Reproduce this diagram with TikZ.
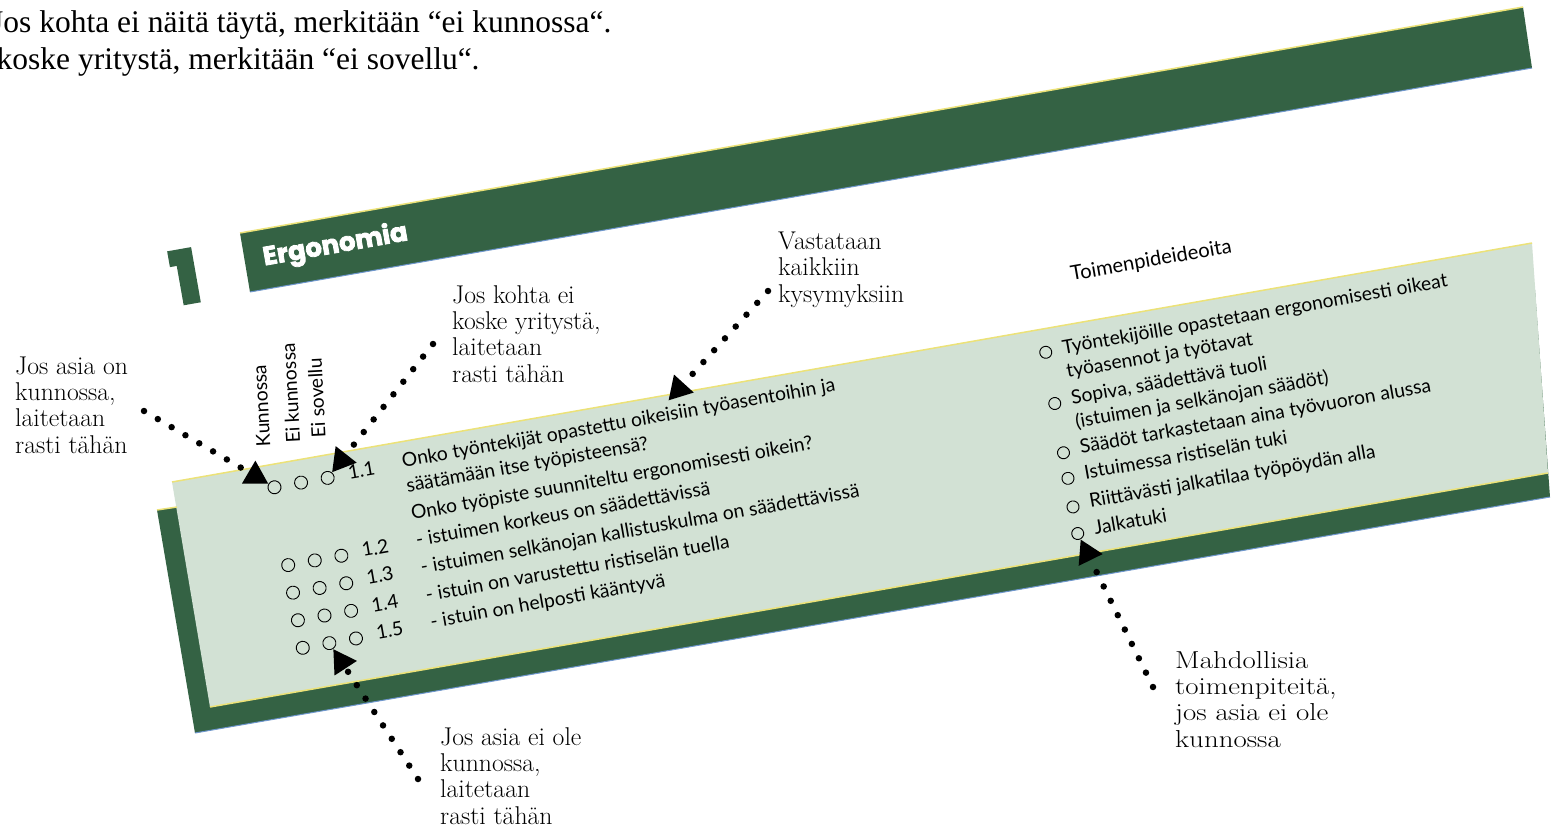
\documentclass[tikz,border=0pt]{standalone}
\usepackage{fontspec}
\usepackage{graphicx}
\setsansfont{Lato}
\newfontfamily\timesfont{Liberation Serif}
\newfontfamily\titlefont{Poppins}[BoldFeatures={FakeBold=3}]
\newfontfamily\numberfont{Poppins}[BoldFeatures={FakeBold=7}]
\usepackage{tikz}
\usetikzlibrary{arrows.meta}
\usetikzlibrary{positioning}
\definecolor{formgreen}{RGB}{52,98,68}
\definecolor{formpale}{RGB}{210,225,212}
\definecolor{rimyellow}{RGB}{236,226,120}
\definecolor{rimblue}{RGB}{110,150,205}
\newcommand{\wideline}[1]{\scalebox{1.18}[1]{#1}}

\begin{document}
\begin{tikzpicture}[x=1pt,y=-1pt,
        ringbox/.style={draw,circle,inner sep=0pt,minimum size=13pt,line width=0.9pt},
        formline/.style={font=\sffamily\fontsize{19.3}{21}\selectfont,anchor=base west,inner sep=0pt},
        annot/.style={font=\fontsize{25.7}{26.3}\selectfont,align=left,anchor=base west,inner sep=0pt},
        dotarrow/.style={line width=6.5pt,line cap=round,dash pattern=on 0pt off 16pt,-{Triangle[length=23pt,width=25pt]}}]
    \useasboundingbox (0,0) rectangle (1556,829);

    \fill[formgreen] (240,233) -- (1523,7) -- (1532,68) -- (250,292) -- cycle;
    \fill[formgreen] (157,510) -- (1535,290) -- (1550,497) -- (195,733) -- cycle;
    \fill[formpale] (172,482) -- (1532,243) -- (1548,473) -- (210,707) -- cycle;
    \draw[rimyellow,line width=1.5pt] (240,233) -- (1523,7) (172,482) -- (1532,243)
        (210,707) -- (1548,473) (157,510) -- (177,507);
    \draw[rimblue,line width=1pt] (250,292) -- (1532,68) (195,733) -- (1550,497);

    \node[font=\timesfont\fontsize{31.5}{37}\selectfont,anchor=base west,inner sep=0pt] (top1) at (-9,33) {Jos kohta ei näitä täytä, merkitään “ei kunnossa“.};
    \node[font=\timesfont\fontsize{31.5}{37}\selectfont,anchor=base west,inner sep=0pt] (top2) at (-3.5,70) {koske yritystä, merkitään “ei sovellu“.};

    \begin{scope}[shift={(172,482)},rotate=10,transform shape]
        \node[font=\numberfont\bfseries\fontsize{70}{70}\selectfont,text=formgreen,inner sep=0pt] (one) at (49,-200) {1};
        \node[font=\titlefont\bfseries\fontsize{26}{26}\selectfont,text=white,inner sep=0pt] (title) at (202,-204) {Ergonomia};
        \node[formline,rotate=83] (h1) at (103,-18) {Kunnossa};
        \node[formline,rotate=83] (h2) at (133,-16) {Ei kunnossa};
        \node[formline,rotate=83] (h3) at (159,-17) {Ei sovellu};
        \node[formline,font=\sffamily\fontsize{20.2}{21}\selectfont] (head) at (921,-42) {Toimenpideideoita};

        \node[ringbox] (k11) at (100,23) {};
        \node[ringbox] (k12) at (127,23) {};
        \node[ringbox] (k13) at (154,23) {};
        \node[ringbox] (k21) at (100,102) {};
        \node[ringbox] (k22) at (127,102) {};
        \node[ringbox] (k23) at (154,102) {};
        \node[ringbox] (k31) at (100,130) {};
        \node[ringbox] (k32) at (127,130) {};
        \node[ringbox] (k33) at (154,130) {};
        \node[ringbox] (k41) at (100,158) {};
        \node[ringbox] (k42) at (127,158) {};
        \node[ringbox] (k43) at (154,158) {};
        \node[ringbox] (k51) at (100,186) {};
        \node[ringbox] (k52) at (127,186) {};
        \node[ringbox] (k53) at (154,186) {};

        \node[formline] (n1) at (175,28) {1.1};
        \node[formline] (n2) at (175,107) {1.2};
        \node[formline] (n3) at (175,135) {1.3};
        \node[formline] (n4) at (175,163) {1.4};
        \node[formline] (n5) at (175,191) {1.5};

        \node[formline] (q1) at (230,26) {Onko työntekijät opastettu oikeisiin työasentoihin ja};
        \node[formline] (q2) at (230,51) {säätämään itse työpisteensä?};
        \node[formline] (q3) at (230,79) {Onko työpiste suunniteltu ergonomisesti oikein?};
        \node[formline] (q4) at (230,106) {- istuimen korkeus on säädettävissä};
        \node[formline] (q5) at (230,134) {- istuimen selkänojan kallistuskulma on säädettävissä};
        \node[formline] (q6) at (230,162) {- istuin on varustettu ristiselän tuella};
        \node[formline] (q7) at (230,189) {- istuin on helposti kääntyvä};

        \node[ringbox,minimum size=12pt] (r1) at (883,24) {};
        \node[ringbox,minimum size=12pt] (r2) at (883,76) {};
        \node[ringbox,minimum size=12pt] (r3) at (883,126) {};
        \node[ringbox,minimum size=12pt] (r4) at (883,152) {};
        \node[ringbox,minimum size=12pt] (r5) at (883,181) {};
        \node[ringbox,minimum size=12pt] (r6) at (883,208) {};

        \node[formline] (t1) at (900,29) {Työntekijöille opastetaan ergonomisesti oikeat};
        \node[formline] (t2) at (900,53) {työasennot ja työtavat};
        \node[formline] (t3) at (900,80) {Sopiva, säädettävä tuoli};
        \node[formline] (t4) at (900,104) {(istuimen ja selkänojan säädöt)};
        \node[formline] (t5) at (900,130) {Säädöt tarkastetaan aina työvuoron alussa};
        \node[formline] (t6) at (900,156) {Istuimessa ristiselän tuki};
        \node[formline] (t7) at (900,185) {Riittävästi jalkatilaa työpöydän alla};
        \node[formline] (t8) at (900,212) {Jalkatuki};

        \coordinate (q1tip) at (503,6);
    \end{scope}

    \node[annot] (A1) at (15,453) {Jos asia on\\kunnossa,\\laitetaan\\rasti tähän};
    \node[annot] (A2) at (452,382) {Jos kohta ei\\koske yritystä,\\laitetaan\\rasti tähän};
    \node[annot] (A3) at (778,302) {Vastataan\\kaikkiin\\kysymyksiin};
    \node[annot] (A4) at (440,824) {Jos asia ei ole\\kunnossa,\\laitetaan\\rasti tähän};
    \node[annot,font=\fontsize{24.5}{26.3}\selectfont] (A5) at (1175,747) {\wideline{Mahdollisia}\\\wideline{toimenpiteitä,}\\\wideline{jos asia ei ole}\\\wideline{kunnossa}};

    \coordinate (s1) at (144,411);
    \coordinate (s2) at (433,344);
    \coordinate (s3) at (768,291);
    \coordinate (s4) at (418,779);
    \coordinate (s5) at (1153,687);

    \path[dotarrow]
        (s1) edge (k11)
        (s2) edge (k13)
        (s3) edge (q1tip)
        (s4) edge (k52)
        (s5) edge (r6);
\end{tikzpicture}
\end{document}
